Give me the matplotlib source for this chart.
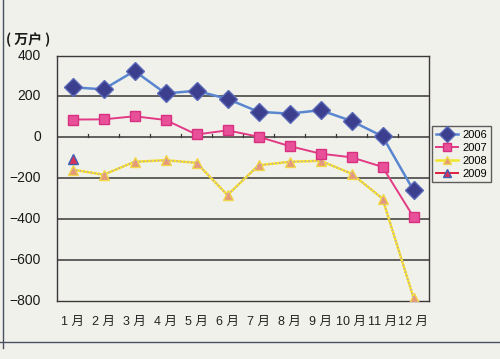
import matplotlib
matplotlib.use('Agg')
import matplotlib.pyplot as plt
import numpy as np

plt.rcParams['font.family'] = ['Liberation Sans', 'Noto Sans CJK SC', 'DejaVu Sans']

months = ['1 月', '2 月', '3 月', '4 月', '5 月', '6 月', '7 月', '8 月', '9 月', '10 月', '11 月', '12 月']
y2006 = [245, 235, 325, 215, 228, 188, 125, 116, 133, 80, 5, -260]
y2007 = [87, 88, 103, 85, 14, 34, 3, -43, -80, -98, -145, -390]
y2008 = [-158, -183, -120, -112, -125, -283, -137, -120, -115, -178, -300, -785]
y2009 = [-105]
yticks = [-800, -600, -400, -200, 0, 200, 400]

bg = '#f1f1ec'
fig = plt.figure(figsize=(5, 3.59), dpi=100, facecolor=bg)
ax = fig.add_axes([0.114, 0.1625, 0.744, 0.6825])
ax.set_facecolor(bg)

x = np.arange(len(months))

# grid lines
for v in [200, 0, -200, -400, -600]:
    ax.axhline(v, color='#3a3838', lw=1.1, zorder=1)
# small ticks on zero line at category boundaries
for b in x[:-1] + 0.5:
    ax.plot([b, b], [0, 14], color='#3a3838', lw=0.9, zorder=1)

ax.plot(x, y2006, color='#5a86d0', lw=1.8, marker='D', ms=9.5,
        mfc='#3c3f8e', mec='#5a6ab8', zorder=5, label='2006')
ax.plot(x, y2007, color='#e23a84', lw=1.4, marker='s', ms=6.5,
        mfc='#e8509a', mec='#d83080', zorder=4, label='2007')
ax.plot(x, y2008, color='#f2e62a', lw=1.8, marker='^', ms=7.5,
        mfc='#e59a78', mec='#f0d84a', zorder=3, label='2008')
ax.plot(x, y2008, color='#c890c8', lw=1.0, ls=':', zorder=3)
ax.plot(x[:len(y2009)], y2009, color='#e02040', lw=1.4, marker='^', ms=7.5,
        mfc='#d8305a', mec='#4060b0', zorder=6, label='2009')

ax.set_xlim(-0.5, 11.5)
ax.set_ylim(-800, 400)
ax.set_yticks([])
ax.set_xticks(x)
ax.set_xticklabels(months, fontsize=9)
ax.tick_params(axis='x', length=0, pad=11, colors='#222222')
for s in ax.spines.values():
    s.set_color('#3a3838')
    s.set_linewidth(1.0)

for v in yticks:
    fig.text(0.082, ax.transData.transform((0, v))[1] / fig.bbox.height,
             str(v).replace('-', '−'), ha='right', va='center', fontsize=10, color='#1a1a1a')
fig.text(0.012, 0.888, '( 万户 )', fontsize=10, color='#1a1a1a', va='center',
         family=['Noto Sans CJK SC', 'DejaVu Sans'], fontweight='bold')

leg = fig.legend(loc='upper left', bbox_to_anchor=(0.864, 0.648), fontsize=8,
                 frameon=True, fancybox=False, edgecolor='#3a3838', facecolor=bg,
                 handlelength=2.0, labelspacing=0.25, borderpad=0.35, handletextpad=0.35,
                 borderaxespad=0, markerscale=0.85)
leg.get_frame().set_linewidth(1.0)

# page frame lines
fig.add_artist(plt.Line2D([0.006, 0.006], [0.03, 1.0], color='#4a5060', lw=1.0))
fig.add_artist(plt.Line2D([0.0, 1.0], [0.047, 0.047], color='#4a5060', lw=1.0))

fig.savefig('out.png', dpi=100, facecolor=bg)
